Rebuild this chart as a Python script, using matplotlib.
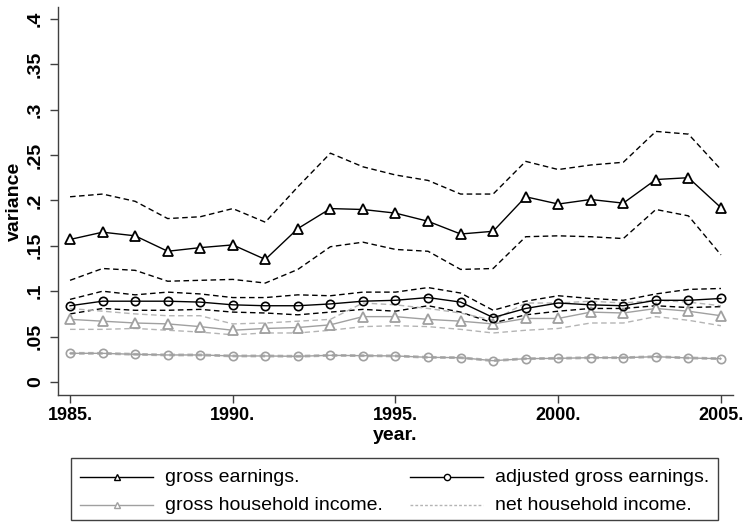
import matplotlib
matplotlib.use("Agg")
import matplotlib.pyplot as plt
from matplotlib.lines import Line2D
from matplotlib.patches import Rectangle

years = list(range(1985, 2006))

gross_earn = [0.157, 0.165, 0.161, 0.144, 0.148, 0.151, 0.135, 0.169, 0.191, 0.190,
              0.186, 0.177, 0.163, 0.166, 0.204, 0.196, 0.201, 0.197, 0.223, 0.225, 0.192]
gross_earn_hi = [0.204, 0.207, 0.199, 0.180, 0.182, 0.191, 0.176, 0.215, 0.252, 0.237,
                 0.228, 0.222, 0.207, 0.207, 0.243, 0.234, 0.239, 0.242, 0.276, 0.273, 0.234]
gross_earn_lo = [0.112, 0.125, 0.123, 0.111, 0.112, 0.113, 0.109, 0.124, 0.149, 0.154,
                 0.146, 0.144, 0.124, 0.125, 0.160, 0.161, 0.160, 0.158, 0.190, 0.183, 0.140]

adj_earn = [0.084, 0.089, 0.089, 0.089, 0.088, 0.085, 0.084, 0.084, 0.086, 0.089,
            0.090, 0.093, 0.088, 0.071, 0.081, 0.087, 0.085, 0.084, 0.090, 0.090, 0.092]
adj_earn_hi = [0.091, 0.100, 0.096, 0.099, 0.097, 0.093, 0.093, 0.096, 0.095, 0.099,
               0.099, 0.104, 0.098, 0.079, 0.089, 0.095, 0.092, 0.090, 0.097, 0.102, 0.103]
adj_earn_lo = [0.075, 0.081, 0.079, 0.079, 0.080, 0.077, 0.076, 0.074, 0.077, 0.080,
               0.078, 0.084, 0.077, 0.065, 0.074, 0.078, 0.081, 0.081, 0.084, 0.082, 0.083]

gross_hh = [0.069, 0.067, 0.065, 0.064, 0.061, 0.057, 0.059, 0.060, 0.063, 0.072,
            0.072, 0.069, 0.067, 0.064, 0.070, 0.070, 0.077, 0.076, 0.081, 0.078, 0.073]
gross_hh_hi = [0.081, 0.078, 0.075, 0.073, 0.073, 0.064, 0.065, 0.067, 0.069, 0.087,
               0.085, 0.081, 0.076, 0.068, 0.087, 0.087, 0.089, 0.087, 0.090, 0.088, 0.084]
gross_hh_lo = [0.058, 0.058, 0.059, 0.057, 0.055, 0.052, 0.054, 0.054, 0.057, 0.061,
               0.062, 0.061, 0.058, 0.054, 0.057, 0.059, 0.065, 0.065, 0.072, 0.068, 0.062]

net_hh = [0.0316, 0.0316, 0.0305, 0.0298, 0.0298, 0.0287, 0.0287, 0.0283, 0.0294, 0.0290,
          0.0287, 0.0272, 0.0268, 0.0235, 0.0257, 0.0261, 0.0268, 0.0268, 0.0279, 0.0265, 0.0257]
net_hh_hi = [0.0324, 0.0324, 0.0313, 0.0306, 0.0306, 0.0295, 0.0295, 0.0291, 0.0302, 0.0298,
             0.0295, 0.0280, 0.0276, 0.0243, 0.0265, 0.0269, 0.0276, 0.0276, 0.0287, 0.0273, 0.0265]
net_hh_lo = [0.0308, 0.0308, 0.0297, 0.0290, 0.0290, 0.0279, 0.0279, 0.0275, 0.0286, 0.0282,
             0.0279, 0.0264, 0.0260, 0.0227, 0.0249, 0.0253, 0.0260, 0.0260, 0.0271, 0.0257, 0.0249]

legend_labels = ["gross earnings.", "adjusted gross earnings.",
                 "gross household income.", "net household income."]
xtick_vals = [1985, 1990, 1995, 2000, 2005]
xtick_labels = ["1985.", "1990.", "1995.", "2000.", "2005."]
ytick_vals = [0, 0.05, 0.1, 0.15, 0.2, 0.25, 0.3, 0.35, 0.4]
ytick_labels = ["0", ".05", ".1", ".15", ".2", ".25", ".3", ".35", ".4"]

FONT = "Liberation Sans"
BLACK = "#000000"
GRAY = "#a0a0a0"
LGRAY = "#b4b4b4"
DASH = (0, (4, 2.5))
W, H = 743.0, 522.0

fig = plt.figure(figsize=(7.43, 5.22), dpi=100)
ax = fig.add_axes([58 / W, 1 - 395 / H, 675 / W, 388 / H])

lw = 1.0
for arr, c in [(gross_earn_hi, BLACK), (gross_earn_lo, BLACK),
               (adj_earn_hi, BLACK), (adj_earn_lo, BLACK),
               (gross_hh_hi, LGRAY), (gross_hh_lo, LGRAY),
               (net_hh_hi, LGRAY), (net_hh_lo, LGRAY)]:
    ax.plot(years, arr, color=c, lw=lw, linestyle=DASH, zorder=2)

ax.plot(years, net_hh, color=GRAY, lw=lw, marker="o", markersize=6,
        markerfacecolor="none", markeredgecolor=GRAY, markeredgewidth=1.2, zorder=3)
ax.plot(years, gross_hh, color=GRAY, lw=lw, marker="^", markersize=6.5,
        markerfacecolor="white", markeredgecolor=GRAY, markeredgewidth=1.3, zorder=3)
ax.plot(years, adj_earn, color=BLACK, lw=lw, marker="o", markersize=6,
        markerfacecolor="none", markeredgecolor=BLACK, markeredgewidth=1.2, zorder=4)
ax.plot(years, gross_earn, color=BLACK, lw=lw, marker="^", markersize=6.5,
        markerfacecolor="white", markeredgecolor=BLACK, markeredgewidth=1.3, zorder=4)

ax.set_xlim(1984.63, 2005.37)
ax.set_ylim(-0.0143, 0.413)

for s in ["top", "right"]:
    ax.spines[s].set_visible(False)
for s in ["left", "bottom"]:
    ax.spines[s].set_color("#404040")
    ax.spines[s].set_linewidth(1.0)

ax.set_xticks(xtick_vals)
ax.set_xticklabels(xtick_labels, fontfamily=FONT, fontweight="bold", fontsize=13)
ax.set_yticks(ytick_vals)
ax.set_yticklabels(ytick_labels, fontfamily=FONT, fontweight="bold", fontsize=14,
                   rotation=90, va="center")
ax.tick_params(axis="x", direction="out", length=6, width=1, color="#404040", pad=3)
ax.tick_params(axis="y", direction="out", length=6, width=1, color="#404040", pad=4)

ax.set_xlabel("year.", fontfamily=FONT, fontweight="bold", fontsize=14, labelpad=2)
ax.set_ylabel("variance", fontfamily=FONT, fontweight="bold", fontsize=14, labelpad=3)

def fx(px):
    return px / W

def fy(py):
    return 1 - py / H

fig.patches.append(Rectangle((fx(71), fy(520)), (718 - 71) / W, (520 - 458) / H,
                             transform=fig.transFigure, fill=False,
                             edgecolor="#404040", linewidth=1.0))
entries = [
    dict(x0=80, y=477, color=BLACK, marker="^", ls="-", label=legend_labels[0]),
    dict(x0=410, y=477, color=BLACK, marker="o", ls="-", label=legend_labels[1]),
    dict(x0=80, y=505, color=GRAY, marker="^", ls="-", label=legend_labels[2]),
    dict(x0=410, y=505, color=LGRAY, marker=None, ls=(0, (2, 1.5)), label=legend_labels[3]),
]
for e in entries:
    x0, x1 = e["x0"], e["x0"] + 73
    fig.add_artist(Line2D([fx(x0), fx(x1)], [fy(e["y"]), fy(e["y"])],
                          transform=fig.transFigure, color=e["color"], lw=lw,
                          linestyle=e["ls"]))
    if e["marker"]:
        fig.add_artist(Line2D([fx((x0 + x1) / 2)], [fy(e["y"])],
                              transform=fig.transFigure, color=e["color"],
                              marker=e["marker"], markersize=4.5,
                              markerfacecolor="white", markeredgecolor=e["color"],
                              markeredgewidth=1.0, linestyle="none"))
    fig.text(fx(x1 + 12), fy(e["y"]), e["label"], fontfamily=FONT, fontsize=14,
             va="center", ha="left", color="black")

fig.savefig("out.png", dpi=100)
